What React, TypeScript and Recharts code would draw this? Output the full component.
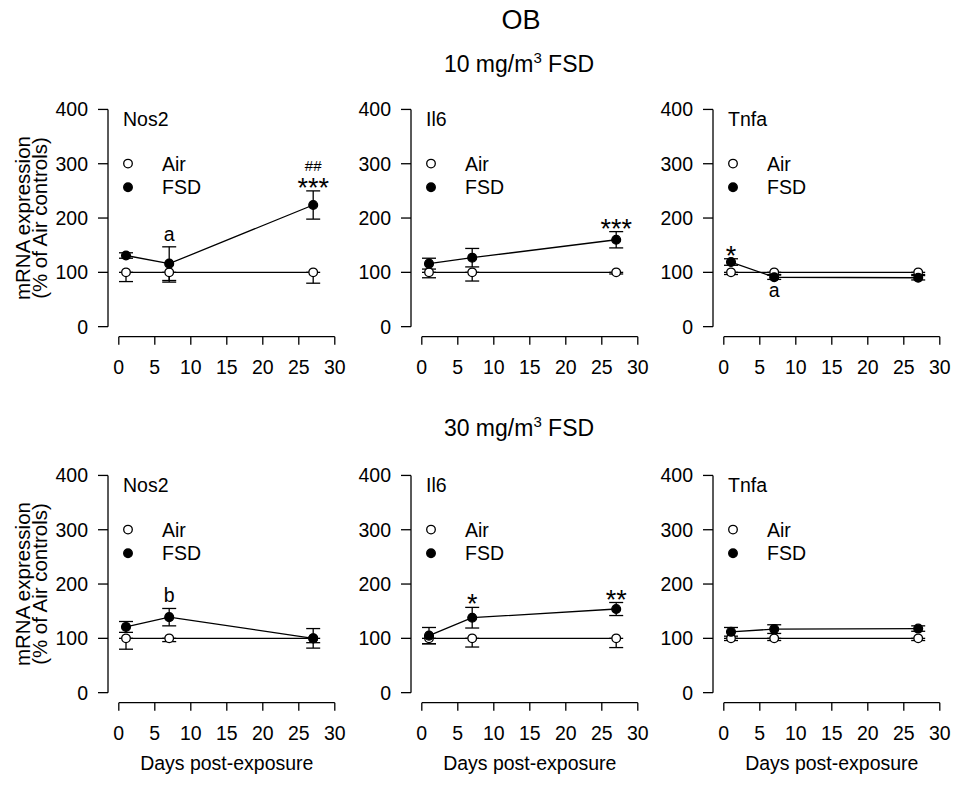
import React from 'react';
import { ComposedChart, Line, XAxis, YAxis, ErrorBar, ReferenceLine, LabelList, Legend } from 'recharts';

const FONT = '"Liberation Sans", Arial, Helvetica, sans-serif';

const DAYS = [1, 7, 27];
const X_TICKS = [0, 5, 10, 15, 20, 25, 30];
const Y_TICKS = [0, 100, 200, 300, 400];
const X_DOMAIN: [number, number] = [-1.5, 31];
const Y_DOMAIN: [number, number] = [-18.5, 410];

// 10 mg/m3 FSD
const NOS2_10_AIR = [100, 100, 100];
const NOS2_10_AIR_ERR = [17, 18, 20];
const NOS2_10_FSD = [131, 116, 224];
const NOS2_10_FSD_ERR = [5, 31, 26];
const NOS2_10_SIG = ['', 'a', '***'];
const NOS2_10_SIG2 = ['', '', '##'];

const IL6_10_AIR = [100, 100, 100];
const IL6_10_AIR_ERR = [10, 16, 3];
const IL6_10_FSD = [116, 127, 160];
const IL6_10_FSD_ERR = [10, 17, 15];
const IL6_10_SIG = ['', '', '***'];

const TNFA_10_AIR = [100, 100, 100];
const TNFA_10_AIR_ERR = [4, 4, 4];
const TNFA_10_FSD = [119, 91, 90];
const TNFA_10_FSD_ERR = [6, 4, 4];
const TNFA_10_SIG = ['*', '', ''];
const TNFA_10_BELOW = ['', 'a', ''];

// 30 mg/m3 FSD
const NOS2_30_AIR = [100, 100, 100];
const NOS2_30_AIR_ERR = [20, 6, 8];
const NOS2_30_FSD = [121, 139, 100];
const NOS2_30_FSD_ERR = [10, 16, 18];
const NOS2_30_SIG = ['', 'b', ''];

const IL6_30_AIR = [100, 100, 100];
const IL6_30_AIR_ERR = [10, 16, 17];
const IL6_30_FSD = [105, 138, 154];
const IL6_30_FSD_ERR = [15, 19, 12];
const IL6_30_SIG = ['', '*', '**'];

const TNFA_30_AIR = [100, 100, 100];
const TNFA_30_AIR_ERR = [4, 4, 4];
const TNFA_30_FSD = [112, 117, 118];
const TNFA_30_FSD_ERR = [8, 8, 5];

const EMPTY = ['', '', ''];

type PanelDef = {
  gene: string;
  air: number[];
  airErr: number[];
  fsd: number[];
  fsdErr: number[];
  sig: string[];
  sig2: string[];
  below: string[];
};

const ROW_10: PanelDef[] = [
  { gene: 'Nos2', air: NOS2_10_AIR, airErr: NOS2_10_AIR_ERR, fsd: NOS2_10_FSD, fsdErr: NOS2_10_FSD_ERR, sig: NOS2_10_SIG, sig2: NOS2_10_SIG2, below: EMPTY },
  { gene: 'Il6', air: IL6_10_AIR, airErr: IL6_10_AIR_ERR, fsd: IL6_10_FSD, fsdErr: IL6_10_FSD_ERR, sig: IL6_10_SIG, sig2: EMPTY, below: EMPTY },
  { gene: 'Tnfa', air: TNFA_10_AIR, airErr: TNFA_10_AIR_ERR, fsd: TNFA_10_FSD, fsdErr: TNFA_10_FSD_ERR, sig: TNFA_10_SIG, sig2: EMPTY, below: TNFA_10_BELOW },
];

const ROW_30: PanelDef[] = [
  { gene: 'Nos2', air: NOS2_30_AIR, airErr: NOS2_30_AIR_ERR, fsd: NOS2_30_FSD, fsdErr: NOS2_30_FSD_ERR, sig: NOS2_30_SIG, sig2: EMPTY, below: EMPTY },
  { gene: 'Il6', air: IL6_30_AIR, airErr: IL6_30_AIR_ERR, fsd: IL6_30_FSD, fsdErr: IL6_30_FSD_ERR, sig: IL6_30_SIG, sig2: EMPTY, below: EMPTY },
  { gene: 'Tnfa', air: TNFA_30_AIR, airErr: TNFA_30_AIR_ERR, fsd: TNFA_30_FSD, fsdErr: TNFA_30_FSD_ERR, sig: EMPTY, sig2: EMPTY, below: EMPTY },
];

// layout (plot area of each panel)
const PLOT_W = 234;
const PLOT_H = 232.7;
const COL_LEFT = [108.2, 411.2, 713.2];
const ROW_TOP = [104.4, 470.4];
const AXIS_LEFT = 100;
const AXIS_BOTTOM = 80;
const LINE_W = 1.3;
const TEXT_SIZE = 19.5;

const openDot = (props: any) => (
  <circle key={`o-${props.index}`} cx={props.cx} cy={props.cy} r={4.3} fill="#fff" stroke="#000" strokeWidth={LINE_W} />
);
const filledDot = (props: any) => (
  <circle key={`f-${props.index}`} cx={props.cx} cy={props.cy} r={4.4} fill="#000" stroke="#000" strokeWidth={LINE_W} />
);

function pos(props: any) {
  const vb = props.viewBox || {};
  const x = props.x != null ? props.x + (props.width || 0) / 2 : vb.x + (vb.width || 0) / 2;
  const y = props.y != null ? props.y : vb.y;
  return { x, y };
}

function XTitle({ viewBox }: any) {
  if (!viewBox) return null;
  const cx = viewBox.x + (viewBox.width * (15 - X_DOMAIN[0])) / (X_DOMAIN[1] - X_DOMAIN[0]);
  return (
    <text x={cx} y={viewBox.y + 67} textAnchor="middle" fontSize={TEXT_SIZE} fontFamily={FONT} fill="#000">
      Days post-exposure
    </text>
  );
}

function YTitle({ viewBox }: any) {
  if (!viewBox) return null;
  const cy = viewBox.y + (viewBox.height * (Y_DOMAIN[1] - 200)) / (Y_DOMAIN[1] - Y_DOMAIN[0]);
  return (
    <g fontSize={20.5} fontFamily={FONT} fill="#000">
      <text transform={`translate(${viewBox.x + 22},${cy}) rotate(-90)`} textAnchor="middle">
        mRNA expression
      </text>
      <text transform={`translate(${viewBox.x + 39},${cy}) rotate(-90)`} textAnchor="middle">
        (% of Air controls)
      </text>
    </g>
  );
}

function PanelLegend({ gene, payload }: { gene: string; payload?: any[] }) {
  const items = (payload || []).filter((it) => it.value === 'Air' || it.value === 'FSD');
  return (
    <svg width={150} height={100} style={{ overflow: 'visible' }}>
      <text x={15} y={22.3} fontSize={TEXT_SIZE} fontFamily={FONT} fill="#000">
        {gene}
      </text>
      {items.map((it, i) => {
        const cy = 59.6 + i * 23.7;
        return (
          <g key={it.value}>
            <circle cx={20} cy={cy} r={4.3} fill={it.value === 'Air' ? '#fff' : '#000'} stroke="#000" strokeWidth={LINE_W} />
            <text x={54} y={cy + 7} fontSize={TEXT_SIZE} fontFamily={FONT} fill="#000">
              {it.value}
            </text>
          </g>
        );
      })}
    </svg>
  );
}

function Panel({ p, col, row }: { p: PanelDef; col: number; row: number }) {
  const data = DAYS.map((d, i) => ({
    day: d,
    air: p.air[i],
    // Air bars are drawn downward only, FSD bars both ways
    airErr: [p.airErr[i], 0],
    fsd: p.fsd[i],
    fsdErr: p.fsdErr[i],
    fsdTop: p.fsd[i] + p.fsdErr[i],
    sig: p.sig[i],
    sig2: p.sig2[i],
    below: p.below[i],
  }));

  const renderAbove = (props: any) => {
    const { x, y } = pos(props);
    const idx = props.index;
    const main = props.value as string;
    const extra = data[idx] ? data[idx].sig2 : '';
    if (!main && !extra) return null;
    const isStar = main && main[0] === '*';
    return (
      <g key={`sig-${idx}`} fontFamily={FONT} fill="#000">
        {main ? (
          <text x={x} y={isStar ? y + 6 : y - 6} textAnchor="middle" fontSize={isStar ? 27 : TEXT_SIZE}>
            {main}
          </text>
        ) : null}
        {extra ? (
          <text x={x} y={y - 20} textAnchor="middle" fontSize={15}>
            {extra}
          </text>
        ) : null}
      </g>
    );
  };

  const renderBelow = (props: any) => {
    const { x, y } = pos(props);
    if (!props.value) return null;
    return (
      <text key={`below-${props.index}`} x={x} y={y + 20} textAnchor="middle" fontSize={TEXT_SIZE} fontFamily={FONT} fill="#000">
        {props.value}
      </text>
    );
  };

  const tickStyle = { fill: '#000', fontSize: TEXT_SIZE, fontFamily: FONT };
  const tickLine = { stroke: '#000', strokeWidth: LINE_W };

  return (
    <div style={{ position: 'absolute', left: COL_LEFT[col] - AXIS_LEFT, top: ROW_TOP[row] - 10 }}>
      <ComposedChart
        width={AXIS_LEFT + PLOT_W + 10}
        height={10 + PLOT_H + AXIS_BOTTOM}
        data={data}
        margin={{ top: 10, right: 10, bottom: 0, left: 0 }}
      >
        <XAxis
          dataKey="day"
          type="number"
          domain={X_DOMAIN}
          ticks={X_TICKS}
          allowDataOverflow
          axisLine={false}
          tickLine={tickLine}
          tickSize={8}
          tickMargin={15}
          tick={tickStyle}
          height={AXIS_BOTTOM}
          interval={0}
          label={row === 1 ? { content: (lp: any) => <XTitle viewBox={lp.viewBox} /> } : undefined}
        />
        <YAxis
          type="number"
          domain={Y_DOMAIN}
          ticks={Y_TICKS}
          allowDataOverflow
          axisLine={false}
          tickLine={tickLine}
          tickSize={10}
          tickMargin={10}
          tick={tickStyle}
          width={AXIS_LEFT}
          interval={0}
          label={col === 0 ? { content: (lp: any) => <YTitle viewBox={lp.viewBox} /> } : undefined}
        />
        <ReferenceLine
          segment={[{ x: 0, y: Y_DOMAIN[0] }, { x: 30, y: Y_DOMAIN[0] }]}
          stroke="#000"
          strokeWidth={LINE_W}
          ifOverflow="visible"
        />
        <ReferenceLine
          segment={[{ x: X_DOMAIN[0], y: 0 }, { x: X_DOMAIN[0], y: 400 }]}
          stroke="#000"
          strokeWidth={LINE_W}
          ifOverflow="visible"
        />
        <Legend
          layout="vertical"
          align="center"
          verticalAlign="middle"
          wrapperStyle={{ left: AXIS_LEFT, top: 10, width: 150, height: 100 }}
          content={(lp: any) => <PanelLegend gene={p.gene} payload={lp.payload} />}
        />
        <Line
          name="Air"
          dataKey="air"
          stroke="#000"
          strokeWidth={LINE_W}
          dot={openDot}
          activeDot={false}
          isAnimationActive={false}
        >
          <ErrorBar dataKey="airErr" width={7} stroke="#000" strokeWidth={LINE_W} direction="y" />
        </Line>
        <Line
          name="FSD"
          dataKey="fsd"
          stroke="#000"
          strokeWidth={LINE_W}
          dot={filledDot}
          activeDot={false}
          isAnimationActive={false}
        >
          <ErrorBar dataKey="fsdErr" width={7} stroke="#000" strokeWidth={LINE_W} direction="y" />
          <LabelList dataKey="below" content={renderBelow} />
        </Line>
        <Line
          name="sig"
          dataKey="fsdTop"
          stroke="none"
          dot={false}
          activeDot={false}
          legendType="none"
          isAnimationActive={false}
        >
          <LabelList dataKey="sig" content={renderAbove} />
        </Line>
      </ComposedChart>
    </div>
  );
}

export default function App() {
  return (
    <div style={{ position: 'absolute', left: 0, top: 0, width: 959, height: 785, background: '#fff', fontFamily: FONT }}>
      <svg width={959} height={785} style={{ position: 'absolute', left: 0, top: 0 }}>
        <g fontFamily={FONT} fill="#000" textAnchor="middle">
          <text x={521} y={28.5} fontSize={27}>OB</text>
          <text x={519} y={71.7} fontSize={23}>
            10 mg/m<tspan fontSize={15} dy={-9}>3</tspan>
            <tspan dy={9}> FSD</tspan>
          </text>
          <text x={519} y={436} fontSize={23}>
            30 mg/m<tspan fontSize={15} dy={-9}>3</tspan>
            <tspan dy={9}> FSD</tspan>
          </text>
        </g>
      </svg>
      {ROW_10.map((p, i) => (
        <Panel key={`r0-${i}`} p={p} col={i} row={0} />
      ))}
      {ROW_30.map((p, i) => (
        <Panel key={`r1-${i}`} p={p} col={i} row={1} />
      ))}
    </div>
  );
}
